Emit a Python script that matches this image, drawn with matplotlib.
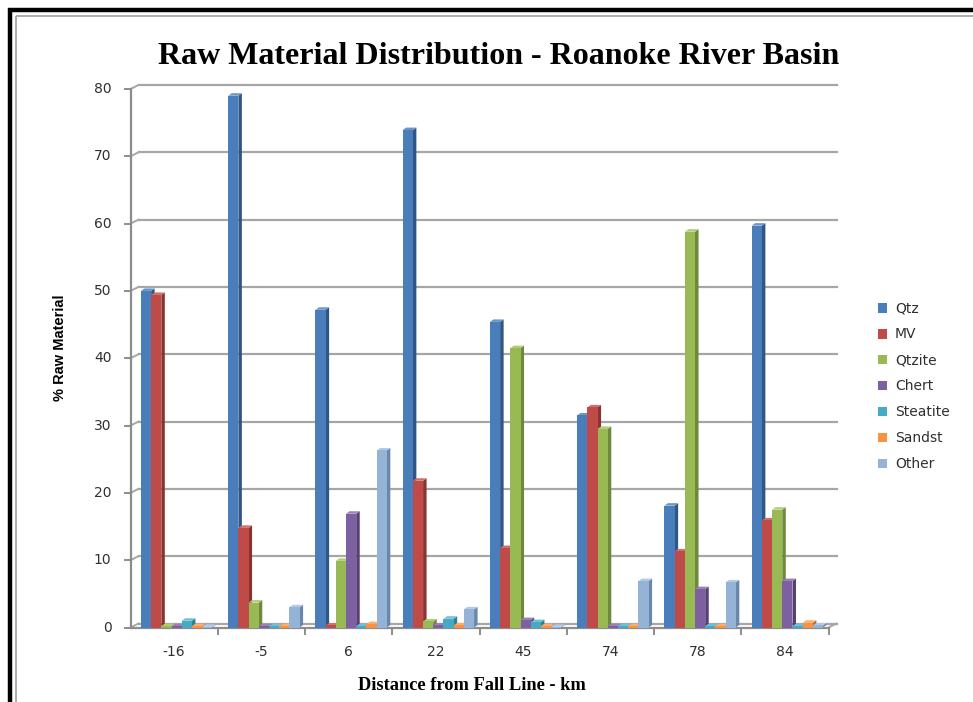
import matplotlib
matplotlib.use("Agg")
import matplotlib.pyplot as plt
from matplotlib.patches import Polygon
from matplotlib.lines import Line2D
from matplotlib import transforms, font_manager

categories = ["-16", "-5", "6", "22", "45", "74", "78", "84"]
series_names = ["Qtz", "MV", "Qtzite", "Chert", "Steatite", "Sandst", "Other"]
qtz = [50.0, 79.0, 47.2, 73.9, 45.4, 31.5, 18.1, 59.7]
mv = [49.4, 14.8, 0.3, 21.8, 11.8, 32.7, 11.3, 15.9]
qtzite = [0.2, 3.7, 9.9, 0.9, 41.5, 29.5, 58.8, 17.5]
chert = [0.2, 0.2, 16.9, 0.3, 1.1, 0.2, 5.7, 6.9]
steatite = [1.0, 0.2, 0.2, 1.3, 0.8, 0.2, 0.2, 0.2]
sandst = [0.2, 0.2, 0.5, 0.3, 0.2, 0.2, 0.2, 0.7]
other = [0.1, 3.0, 26.3, 2.7, 0.1, 6.9, 6.7, 0.3]
yticks = [0, 10, 20, 30, 40, 50, 60, 70, 80]

series = [qtz, mv, qtzite, chert, steatite, sandst, other]
front_colors = ["#4A7EBB", "#BE4B48", "#98B954", "#7D60A0", "#46AAC5", "#F69240", "#95B3D7"]
side_colors = ["#2F5686", "#8A3331", "#6C8A39", "#573F76", "#2F7F95", "#B8672A", "#6A87AB"]
top_colors = ["#6B95C9", "#CF6E6B", "#B0CC76", "#9A82B8", "#6EC0D6", "#F9AD6E", "#B3C9E4"]

W, H, DPI = 973, 702, 100
fig = plt.figure(figsize=(W / DPI, H / DPI), dpi=DPI)

def have(name):
    try:
        font_manager.findfont(name, fallback_to_default=False)
        return True
    except Exception:
        return False

serif = "Liberation Serif" if have("Liberation Serif") else "DejaVu Serif"
sans = "Liberation Sans" if have("Liberation Sans") else "DejaVu Sans"

# plot plane of the bar fronts, in pixel coordinates (y measured from top)
L, R = 133.0, 831.0
Y0, Y80 = 627.5, 89.0
ax = fig.add_axes([L / W, 1 - Y0 / H, (R - L) / W, (Y0 - Y80) / H])
n_cat = len(categories)
ax.set_xlim(-0.5, n_cat - 0.5)
ax.set_ylim(0, 80)
ax.axis("off")

def offset(px, py):
    return ax.transData + transforms.ScaledTranslation(px / DPI, py / DPI, fig.dpi_scale_trans)

fx, fy = -2.5, 0.0   # front edge of the floor / value axis
bx, by = 5.5, 4.0    # back wall
front_t = offset(fx, fy)
back_t = offset(bx, by)

grid_c = "#A6A6A6"
axis_c = "#8C8C8C"
xmin, xmax = -0.5, n_cat - 0.5
ppx = (R - L) / (xmax - xmin)
ppy = (Y0 - Y80) / 80.0

# back-wall gridlines with short connectors to the front axis
for v in yticks:
    ax.add_line(Line2D([xmin, xmax], [v, v], transform=back_t, color=grid_c, lw=1.6, zorder=0.5, clip_on=False))
    ax.add_line(Line2D([xmin + fx / ppx, xmin + bx / ppx], [v + fy / ppy, v + by / ppy],
                       color=grid_c, lw=1.4, zorder=0.5, clip_on=False))
# floor
ax.add_line(Line2D([xmin, xmax], [0, 0], transform=front_t, color=axis_c, lw=1.6, zorder=0.6, clip_on=False))
ax.add_line(Line2D([xmax + fx / ppx, xmax + bx / ppx], [fy / ppy, by / ppy],
                   color=grid_c, lw=1.4, zorder=0.6, clip_on=False))
# value axis
ax.add_line(Line2D([xmin, xmin], [0, 80], transform=front_t, color=axis_c, lw=1.6, zorder=0.6, clip_on=False))
for v in yticks:
    ax.add_line(Line2D([xmin - 6 / ppx, xmin], [v, v], transform=front_t, color=axis_c, lw=1.4, clip_on=False))
    ax.text(xmin - 19 / ppx, v, str(v), transform=front_t, ha="right", va="center",
            fontsize=10, color="#303030", family="DejaVu Sans")
# category axis ticks and labels
for i in range(n_cat):
    b = i + 0.5
    ax.add_line(Line2D([b, b], [0, -6 / ppy], transform=front_t, color=axis_c, lw=1.4, clip_on=False))
    ax.text(i, -25 / ppy, categories[i], transform=front_t, ha="center", va="center",
            fontsize=10, color="#303030", family="DejaVu Sans")

# 3-D looking clustered columns
n_ser = len(series)
bw = 10.2 / ppx
dx, dy = 3.5 / ppx, 2.5 / ppy
z = 2.0
handles = []
for i in range(n_cat):
    for j in range(n_ser):
        v = series[j][i]
        x0 = i - n_ser * bw / 2 + j * bw
        side = Polygon([(x0 + bw, 0), (x0 + bw + dx, dy), (x0 + bw + dx, v + dy), (x0 + bw, v)],
                       closed=True, facecolor=side_colors[j], edgecolor="none", zorder=z, clip_on=False)
        top = Polygon([(x0, v), (x0 + dx, v + dy), (x0 + bw + dx, v + dy), (x0 + bw, v)],
                      closed=True, facecolor=top_colors[j], edgecolor="none", zorder=z, clip_on=False)
        ax.add_patch(side)
        ax.add_patch(top)
        bars = ax.bar(x0, v, width=bw, align="edge", color=front_colors[j], edgecolor="none",
                      zorder=z + 0.001, clip_on=False)
        if i == 0:
            bars[0].set_label(series_names[j])
            handles.append(bars[0])
        z += 0.01

leg = fig.legend(handles=handles, loc="upper left", bbox_to_anchor=(872 / W, 1 - 296 / H),
                 frameon=False, fontsize=10, handlelength=0.7, handleheight=0.7,
                 handletextpad=0.55, labelspacing=0.86, borderaxespad=0)
for t in leg.get_texts():
    t.set_color("#303030")

fig.text(499 / W, 1 - 56 / H, "Raw Material Distribution - Roanoke River Basin",
         ha="center", va="center", fontsize=23, fontweight="bold", family=serif, color="black")
fig.text(472 / W, 1 - 686 / H, "Distance from Fall Line - km",
         ha="center", va="center", fontsize=13.2, fontweight="bold", family=serif, color="black")
fig.text(60 / W, 1 - 348 / H, "% Raw Material", rotation=90,
         ha="center", va="center", fontsize=10.5, fontweight="bold", family=sans, color="black")

# double frame round the chart
def frame_line(x0p, y0p, x1p, y1p, color, lw):
    fig.add_artist(Line2D([x0p / W, x1p / W], [1 - y0p / H, 1 - y1p / H], transform=fig.transFigure,
                          color=color, lw=lw, solid_capstyle="butt"))

frame_line(10, 8, 10, H, "black", 3.2)
frame_line(8, 10, W, 10, "black", 3.2)
frame_line(15.5, 15.5, 15.5, H, "#A0A0A0", 1.2)
frame_line(15.5, 15.5, W, 15.5, "#A0A0A0", 1.2)

fig.savefig("out.png", dpi=DPI)
